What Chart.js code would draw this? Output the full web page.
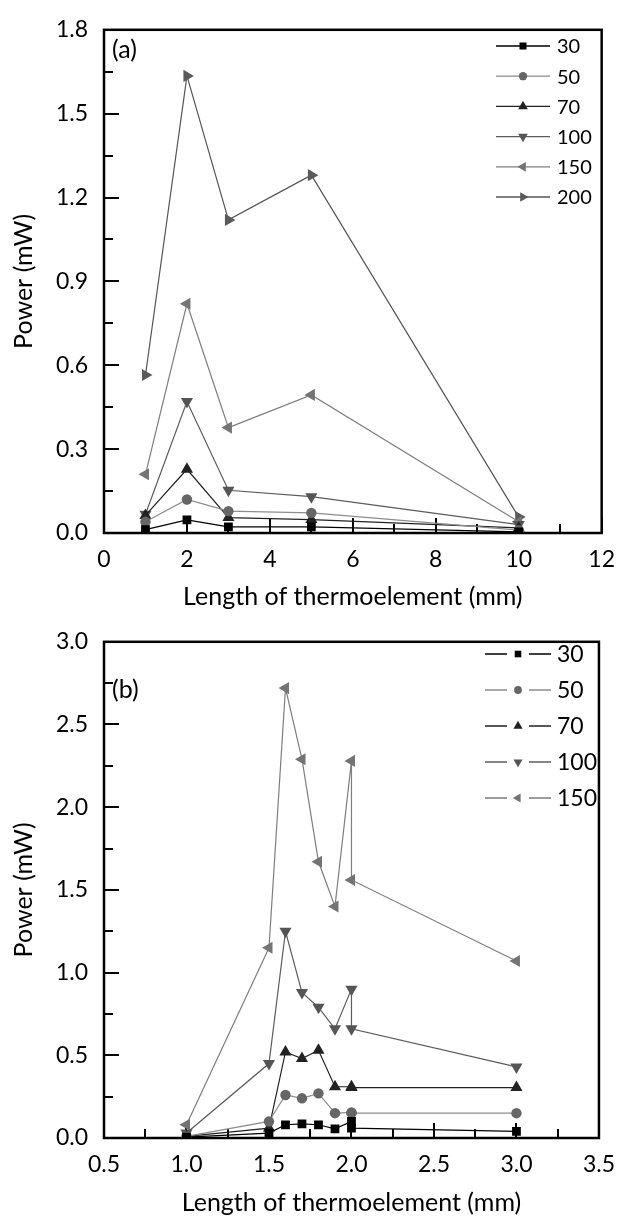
<!DOCTYPE html>
<html>
<head>
<meta charset="utf-8">
<script src="https://cdn.jsdelivr.net/npm/chart.js@4.4.0/dist/chart.umd.min.js"></script>
<style>
  html, body { margin: 0; padding: 0; background: #fff; }
  #wrap { position: relative; width: 628px; height: 1218px; }
  .panel { position: absolute; left: 0; width: 628px; }
</style>
</head>
<body>
<div id="wrap">
  <div class="panel" style="top:0;height:612px"><canvas id="chartA" width="628" height="612"></canvas></div>
  <div class="panel" style="top:612px;height:606px"><canvas id="chartB" width="628" height="606"></canvas></div>
</div>
<script>
// panel (a): power vs length, one curve per temperature difference
const seriesNames = ["30", "50", "70", "100", "150", "200"];
const lengthsA = [1, 2, 3, 5, 10];
const powerA30 = [0.012, 0.047, 0.022, 0.022, 0.004];
const powerA50 = [0.040, 0.120, 0.078, 0.072, 0.010];
const powerA70 = [0.063, 0.228, 0.055, 0.048, 0.018];
const powerA100 = [0.067, 0.470, 0.153, 0.130, 0.030];
const powerA150 = [0.210, 0.820, 0.377, 0.494, 0.040];
const powerA200 = [0.565, 1.635, 1.120, 1.280, 0.057];

// panel (b): finer lengths, two measurements at 2.0 mm
const lengthsB = [1.0, 1.5, 1.6, 1.7, 1.8, 1.9, 2.0, 2.0, 3.0];
const powerB30 = [0.005, 0.030, 0.080, 0.085, 0.080, 0.055, 0.100, 0.060, 0.040];
const powerB50 = [0.010, 0.100, 0.260, 0.240, 0.270, 0.150, 0.155, 0.150, 0.150];
const powerB70 = [0.010, 0.060, 0.520, 0.480, 0.530, 0.310, 0.310, 0.305, 0.305];
const powerB100 = [0.030, 0.450, 1.250, 0.880, 0.790, 0.660, 0.900, 0.660, 0.430];
const powerB150 = [0.080, 1.150, 2.720, 2.290, 1.670, 1.400, 2.280, 1.560, 1.070];

const ticksA_x = [0, 2, 4, 6, 8, 10, 12];
const ticksA_y = [0, 0.3, 0.6, 0.9, 1.2, 1.5, 1.8];
const ticksB_x = [0.5, 1.0, 1.5, 2.0, 2.5, 3.0, 3.5];
const ticksB_y = [0, 0.5, 1.0, 1.5, 2.0, 2.5, 3.0];

const FONT = "Lato, 'Open Sans', sans-serif";

// look of each series: line colour, marker colour, marker shape
const styles = {
  "30":  { line: "#000000", mark: "#000000", shape: "rect", rot: 0, r: 6.2 },
  "50":  { line: "#8c8c8c", mark: "#666666", shape: "circle", rot: 0, r: 5.2 },
  "70":  { line: "#222222", mark: "#222222", shape: "triangle", rot: 0, r: 7 },
  "100": { line: "#5c5c5c", mark: "#555555", shape: "triangle", rot: 180, r: 7 },
  "150": { line: "#7e7e7e", mark: "#747474", shape: "triangle", rot: 270, r: 7 },
  "200": { line: "#555555", mark: "#5a5a5a", shape: "triangle", rot: 90, r: 7 }
};

function makeDataset(name, xs, ys) {
  const s = styles[name];
  return {
    label: name,
    data: xs.map((x, i) => ({ x: x, y: ys[i] })),
    showLine: true,
    borderColor: s.line,
    borderWidth: 1.2,
    pointStyle: s.shape,
    pointRotation: s.rot,
    pointRadius: s.r,
    pointBackgroundColor: s.mark,
    pointBorderWidth: 0
  };
}

// own little marker painter for the legend
function drawMarker(ctx, shape, rot, r, x, y) {
  ctx.beginPath();
  if (shape === "rect") {
    const h = r * Math.SQRT1_2;
    ctx.rect(x - h, y - h, 2 * h, 2 * h);
  } else if (shape === "circle") {
    ctx.arc(x, y, r, 0, Math.PI * 2);
  } else {
    let a = rot * Math.PI / 180;
    ctx.moveTo(x + Math.sin(a) * r, y - Math.cos(a) * r);
    a += Math.PI * 2 / 3;
    ctx.lineTo(x + Math.sin(a) * r, y - Math.cos(a) * r);
    a += Math.PI * 2 / 3;
    ctx.lineTo(x + Math.sin(a) * r, y - Math.cos(a) * r);
  }
  ctx.closePath();
  ctx.fill();
}

// box round the plot plus inward major/minor tick marks
const frameTicks = {
  id: "frameTicks",
  beforeDatasetsDraw(chart, args, o) {
    const { ctx, chartArea: a, scales } = chart;
    ctx.save();
    ctx.strokeStyle = "#000";
    ctx.lineWidth = 2;
    const xs = scales.x, ys = scales.y;
    let i = 0;
    for (let v = xs.min; v <= xs.max + 1e-9; v += o.xMinor, i++) {
      const px = Math.round(xs.getPixelForValue(v));
      const len = i % 2 === 0 ? 15 : 9;
      ctx.beginPath(); ctx.moveTo(px, a.bottom); ctx.lineTo(px, a.bottom - len); ctx.stroke();
    }
    i = 0;
    for (let v = ys.min; v <= ys.max + 1e-9; v += o.yMinor, i++) {
      const py = Math.round(ys.getPixelForValue(v));
      const len = i % 2 === 0 ? 15 : 9;
      ctx.beginPath(); ctx.moveTo(a.left, py); ctx.lineTo(a.left + len, py); ctx.stroke();
    }
    ctx.lineWidth = 2.5;
    ctx.strokeRect(a.left, a.top, a.right - a.left, a.bottom - a.top);
    // panel letter
    ctx.fillStyle = "#000";
    ctx.font = "25px " + FONT;
    ctx.textBaseline = "middle";
    ctx.fillText(o.letter, o.letterX, o.letterY);
    ctx.restore();
  }
};

const lineLegend = {
  id: "lineLegend",
  afterDraw(chart, args, o) {
    const ctx = chart.ctx;
    ctx.save();
    chart.data.datasets.forEach((ds, i) => {
      const y = o.top + i * o.gap;
      ctx.strokeStyle = ds.borderColor;
      ctx.lineWidth = 1.3;
      ctx.beginPath();
      if (o.split) {
        ctx.moveTo(o.x0, y); ctx.lineTo(o.mx - o.split, y);
        ctx.moveTo(o.mx + o.split, y); ctx.lineTo(o.x1, y);
      } else {
        ctx.moveTo(o.x0, y); ctx.lineTo(o.x1, y);
      }
      ctx.stroke();
      ctx.fillStyle = ds.pointBackgroundColor;
      drawMarker(ctx, ds.pointStyle, ds.pointRotation, ds.pointRadius * o.scale, o.mx, y);
      ctx.fillStyle = "#000";
      ctx.font = o.size + "px " + FONT;
      ctx.textBaseline = "middle";
      ctx.fillText(ds.label, o.tx, y + 1);
    });
    ctx.restore();
  }
};

function axisOptions(min, max, tickList, digits, title, fixedSize, titlePad, tickPad) {
  return {
    type: "linear",
    min: min,
    max: max,
    afterBuildTicks: s => { s.ticks = tickList.map(v => ({ value: v })); },
    afterFit: s => { if (s.isHorizontal()) s.height = fixedSize; else s.width = fixedSize; },
    grid: { display: false, drawTicks: false },
    border: { display: false },
    ticks: {
      color: "#000",
      font: { family: FONT, size: 23 },
      padding: tickPad,
      maxRotation: 0,
      autoSkip: false,
      callback: v => Number(v).toFixed(digits)
    },
    title: {
      display: true,
      text: title,
      color: "#000",
      font: { family: FONT, size: 25 },
      padding: { top: titlePad, bottom: 0 }
    }
  };
}

function makeChart(id, datasets, xs, ys, pad, extra) {
  return new Chart(document.getElementById(id), {
    type: "scatter",
    data: { datasets: datasets },
    options: {
      responsive: false,
      animation: false,
      events: [],
      layout: { padding: pad },
      scales: { x: xs, y: ys },
      plugins: {
        legend: { display: false },
        tooltip: { enabled: false },
        frameTicks: extra.frame,
        lineLegend: extra.legend
      }
    },
    plugins: [frameTicks, lineLegend]
  });
}

const dataA = [powerA30, powerA50, powerA70, powerA100, powerA150, powerA200];
const dataB = [powerB30, powerB50, powerB70, powerB100, powerB150];

makeChart("chartA",
  seriesNames.map((n, i) => makeDataset(n, lengthsA, dataA[i])),
  axisOptions(0, 12, ticksA_x, 0, "Length of thermoelement (mm)", 79, 11, 13),
  axisOptions(0, 1.8, ticksA_y, 1, "Power (mW)", 104, 9, 16),
  { top: 27, right: 13, bottom: 0, left: 0 },
  {
    frame: { xMinor: 1, yMinor: 0.15, letter: "(a)", letterX: 112, letterY: 50 },
    legend: { top: 46, gap: 30.2, x0: 496, x1: 550, mx: 523, tx: 557, size: 20, scale: 0.8 }
  });

makeChart("chartB",
  seriesNames.slice(0, 5).map((n, i) => makeDataset(n, lengthsB, dataB[i])),
  axisOptions(0.5, 3.5, ticksB_x, 1, "Length of thermoelement (mm)", 80, 8, 13),
  axisOptions(0, 3.0, ticksB_y, 1, "Power (mW)", 104, 9, 16),
  { top: 25, right: 13, bottom: 0, left: 0 },
  {
    frame: { xMinor: 0.25, yMinor: 0.25, letter: "(b)", letterX: 112, letterY: 78 },
    legend: { top: 42, gap: 36, x0: 485, x1: 551, mx: 518, split: 11, tx: 557, size: 23, scale: 0.75 }
  });
</script>
</body>
</html>
